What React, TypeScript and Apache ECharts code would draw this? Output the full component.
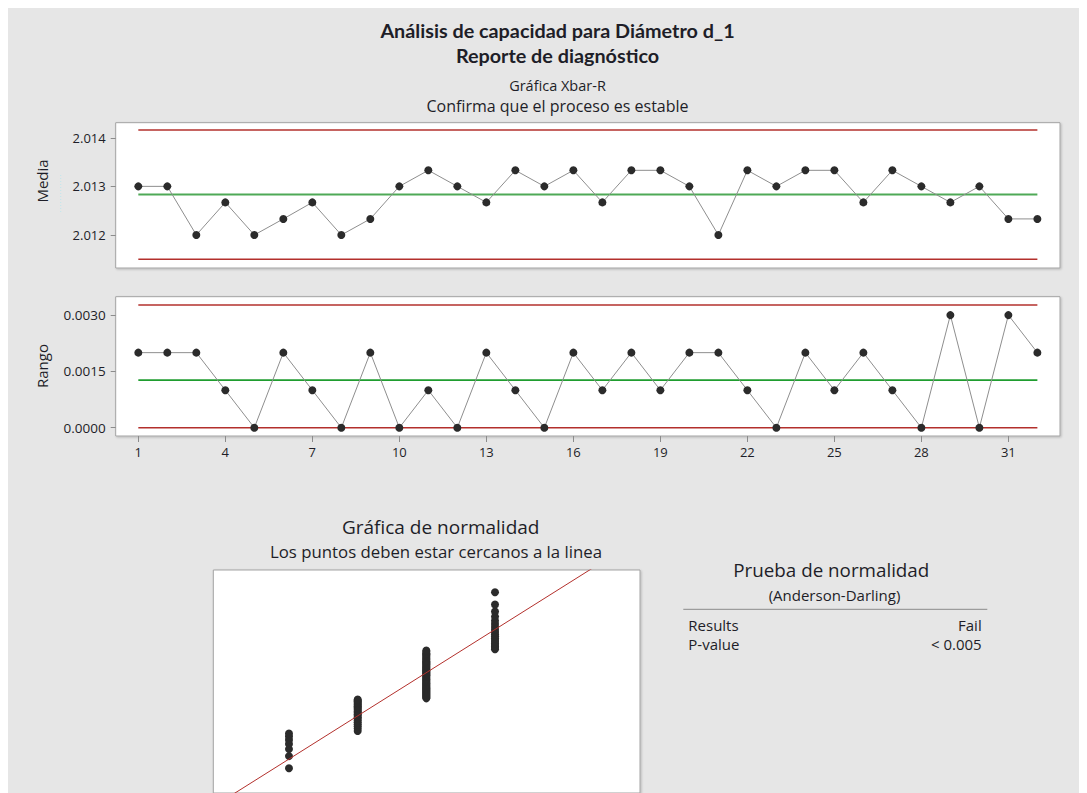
import { useEffect, useRef } from "react";
import * as echarts from "echarts";

// ---- Data ----
const subgroups = [1, 2, 3, 4, 5, 6, 7, 8, 9, 10, 11, 12, 13, 14, 15, 16, 17, 18, 19, 20, 21, 22, 23, 24, 25, 26, 27, 28, 29, 30, 31, 32];
const xbarValues = [
  2.013, 2.013, 2.012, 2.01267, 2.012, 2.01233, 2.01267, 2.012, 2.01233, 2.013,
  2.01333, 2.013, 2.01267, 2.01333, 2.013, 2.01333, 2.01267, 2.01333, 2.01333, 2.013,
  2.012, 2.01333, 2.013, 2.01333, 2.01333, 2.01267, 2.01333, 2.013, 2.01267, 2.013,
  2.01233, 2.01233,
];
const rangeValues = [
  0.002, 0.002, 0.002, 0.001, 0, 0.002, 0.001, 0, 0.002, 0,
  0.001, 0, 0.002, 0.001, 0, 0.002, 0.001, 0.002, 0.001, 0.002,
  0.002, 0.001, 0, 0.002, 0.001, 0.002, 0.001, 0, 0.003, 0,
  0.003, 0.002,
];
const xbarUCL = 2.01416;
const xbarCL = 2.01283;
const xbarLCL = 2.0115;
const rangeUCL = 0.00327;
const rangeCL = 0.00127;
const rangeLCL = 0;

const xTickValues = [1, 4, 7, 10, 13, 16, 19, 22, 25, 28, 31];
const xbarTickValues = [2.012, 2.013, 2.014];
const rangeTickValues = [0, 0.0015, 0.003];

// Normality plot: distinct measured values and how many observations each has
const normalValues = [2.011, 2.012, 2.013, 2.014];
const normalCounts = [7, 22, 48, 19];

// inverse standard normal CDF (probability-scale transform of the y axis)
function invNorm(p: number): number {
  const a = [-3.969683028665376e1, 2.209460984245205e2, -2.759285104469687e2, 1.38357751867269e2, -3.066479806614716e1, 2.506628277459239];
  const b = [-5.447609879822406e1, 1.615858368580409e2, -1.556989798598866e2, 6.680131188771972e1, -1.328068155288572e1];
  const c = [-7.784894002430293e-3, -3.223964580411365e-1, -2.400758277161838, -2.549671010029557, 4.374664141464968, 2.938163982698783];
  const d = [7.784695709041462e-3, 3.224671290700398e-1, 2.445134137142996, 3.754408661907416];
  const plow = 0.02425;
  const phigh = 1 - plow;
  let q: number, r: number;
  if (p < plow) {
    q = Math.sqrt(-2 * Math.log(p));
    return (((((c[0] * q + c[1]) * q + c[2]) * q + c[3]) * q + c[4]) * q + c[5]) / ((((d[0] * q + d[1]) * q + d[2]) * q + d[3]) * q + 1);
  }
  if (p <= phigh) {
    q = p - 0.5;
    r = q * q;
    return ((((((a[0] * r + a[1]) * r + a[2]) * r + a[3]) * r + a[4]) * r + a[5]) * q) / (((((b[0] * r + b[1]) * r + b[2]) * r + b[3]) * r + b[4]) * r + 1);
  }
  q = Math.sqrt(-2 * Math.log(1 - p));
  return -(((((c[0] * q + c[1]) * q + c[2]) * q + c[3]) * q + c[4]) * q + c[5]) / ((((d[0] * q + d[1]) * q + d[2]) * q + d[3]) * q + 1);
}

function buildNormal() {
  const n = normalCounts.reduce((s, v) => s + v, 0);
  const pts: number[][] = [];
  let rank = 0;
  let sum = 0;
  normalValues.forEach((v, k) => {
    for (let j = 0; j < normalCounts[k]; j++) {
      rank += 1;
      pts.push([v, invNorm((rank - 0.3) / (n + 0.4))]);
    }
    sum += v * normalCounts[k];
  });
  const mean = sum / n;
  let ss = 0;
  normalValues.forEach((v, k) => {
    ss += normalCounts[k] * (v - mean) * (v - mean);
  });
  const sd = Math.sqrt(ss / (n - 1));
  return { pts, mean, sd };
}

const TEXT = "#1e1e28";
const RED = "#b3302c";
const FONT = "'Open Sans', 'Noto Sans', sans-serif";
const TITLE_FONT = "Lato, 'Open Sans', sans-serif";

export default function App() {
  const ref = useRef<HTMLDivElement>(null);
  useEffect(() => {
    document.documentElement.style.overflow = "hidden";
    document.body.style.overflow = "hidden";
    if (!ref.current) return;
    const chart = echarts.init(ref.current, null, { renderer: "svg" });
    const { pts, mean, sd } = buildNormal();
    const nxMin = 2.009898;
    const nxMax = 2.016111;
    const xMin = 0.22;
    const xMax = 32.78;
    const first = subgroups[0];
    const last = subgroups[subgroups.length - 1];

    const limitLine = (xi: number, val: number, color: string, width: number) => ({
      type: "line",
      xAxisIndex: xi,
      yAxisIndex: xi,
      data: [
        [first, val],
        [last, val],
      ],
      showSymbol: false,
      symbol: "none",
      silent: true,
      lineStyle: { color, width },
    });

    const gridBase = {
      show: true,
      backgroundColor: "#ffffff",
      borderColor: "#a3a3a3",
      borderWidth: 1,
      shadowColor: "rgba(0,0,0,0.2)",
      shadowBlur: 2,
      shadowOffsetX: 1,
      shadowOffsetY: 1,
    };

    const txt = (x: number, y: number, text: string, font: string, align = "center", extra: any = {}) => ({
      type: "text",
      x,
      y,
      silent: true,
      ...extra,
      style: { text, font, fill: TEXT, textAlign: align, textVerticalAlign: "middle" },
    });

    chart.setOption({
      animation: false,
      backgroundColor: "#e6e6e6",
      grid: [
        { ...gridBase, left: 107.7, top: 114.7, width: 944.3, height: 145.3 },
        { ...gridBase, left: 107.7, top: 288.7, width: 944.3, height: 139.3 },
        { ...gridBase, left: 205.3, top: 562, width: 426.7, height: 223 },
      ],
      xAxis: [
        {
          type: "value", gridIndex: 0, min: xMin, max: xMax,
          axisLine: { show: false }, axisTick: { show: false }, axisLabel: { show: false }, splitLine: { show: false },
        },
        {
          type: "value", gridIndex: 1, min: xMin, max: xMax,
          axisLine: { show: false, onZero: false },
          axisTick: { show: true, customValues: xTickValues, length: 6, lineStyle: { color: "#8c8c8c" } },
          axisLabel: { show: true, customValues: xTickValues, color: TEXT, fontSize: 13, fontFamily: FONT, margin: 9 },
          splitLine: { show: false },
        },
        {
          type: "value", gridIndex: 2, min: nxMin, max: nxMax,
          axisLine: { show: false }, axisTick: { show: false }, axisLabel: { show: false }, splitLine: { show: false },
        },
      ],
      yAxis: [
        {
          type: "value", gridIndex: 0, min: 2.01132, max: 2.01431,
          axisLine: { show: false, onZero: false },
          axisTick: { show: true, customValues: xbarTickValues, length: 5, lineStyle: { color: "#8c8c8c" } },
          axisLabel: { show: true, customValues: xbarTickValues, formatter: (v: number) => v.toFixed(3), color: TEXT, fontSize: 13, fontFamily: FONT, margin: 10 },
          splitLine: { show: false },
        },
        {
          type: "value", gridIndex: 1, min: -0.00022, max: 0.00349,
          axisLine: { show: false, onZero: false },
          axisTick: { show: true, customValues: rangeTickValues, length: 5, lineStyle: { color: "#8c8c8c" } },
          axisLabel: { show: true, customValues: rangeTickValues, formatter: (v: number) => v.toFixed(4), color: TEXT, fontSize: 13.5, fontFamily: FONT, margin: 10 },
          splitLine: { show: false },
        },
        {
          type: "value", gridIndex: 2, min: -3.13, max: 3.064,
          axisLine: { show: false }, axisTick: { show: false }, axisLabel: { show: false }, splitLine: { show: false },
        },
      ],
      series: [
        limitLine(0, xbarUCL, RED, 1.5),
        limitLine(0, xbarLCL, RED, 1.5),
        limitLine(0, xbarCL, "#4fa957", 2),
        {
          type: "line", xAxisIndex: 0, yAxisIndex: 0,
          data: subgroups.map((s, i) => [s, xbarValues[i]]),
          symbol: "circle", symbolSize: 8, showSymbol: true,
          itemStyle: { color: "#2b2b2b", opacity: 1 },
          lineStyle: { color: "#8e8e8e", width: 1 },
        },
        limitLine(1, rangeUCL, RED, 1.5),
        limitLine(1, rangeLCL, RED, 1.5),
        limitLine(1, rangeCL, "#1f9d2f", 1.8),
        {
          type: "line", xAxisIndex: 1, yAxisIndex: 1,
          data: subgroups.map((s, i) => [s, rangeValues[i]]),
          symbol: "circle", symbolSize: 8, showSymbol: true,
          itemStyle: { color: "#2b2b2b", opacity: 1 },
          lineStyle: { color: "#8e8e8e", width: 1 },
        },
        {
          type: "line", xAxisIndex: 2, yAxisIndex: 2,
          data: [
            [nxMin, (nxMin - mean) / sd],
            [nxMax, (nxMax - mean) / sd],
          ],
          symbol: "none", clip: true, silent: true,
          lineStyle: { color: RED, width: 1 },
        },
        {
          type: "scatter", xAxisIndex: 2, yAxisIndex: 2,
          data: pts,
          symbol: "circle", symbolSize: 8,
          itemStyle: { color: "#2b2b2b", opacity: 1 },
        },
      ],
      graphic: [
        txt(549.5, 22, "Análisis de capacidad para Diámetro d_1", `bold 19.8px ${TITLE_FONT}`),
        txt(549.5, 47, "Reporte de diagnóstico", `bold 19.8px ${TITLE_FONT}`),
        txt(549.5, 77, "Gráfica Xbar-R", `14.5px ${FONT}`),
        txt(549.5, 97.5, "Confirma que el proceso es estable", `16px ${FONT}`),
        txt(33.7, 173, "Media", `15px ${FONT}`, "center", { rotation: Math.PI / 2 }),
        txt(33.7, 358, "Rango", `15px ${FONT}`, "center", { rotation: Math.PI / 2 }),
        {
          type: "line", silent: true,
          shape: { x1: 52.7, y1: 167, x2: 52.7, y2: 205 },
          style: { stroke: "#bfe6ec", lineWidth: 1, lineDash: [1, 2] },
        },
        txt(432.7, 518.7, "Gráfica de normalidad", `19px ${FONT}`),
        txt(428, 543.7, "Los puntos deben estar cercanos a la linea", `16.8px ${FONT}`),
        txt(823.3, 562, "Prueba de normalidad", `18.8px ${FONT}`),
        txt(826.5, 587, "(Anderson-Darling)", `15px ${FONT}`),
        {
          type: "line", silent: true,
          shape: { x1: 675.3, y1: 601.3, x2: 979.3, y2: 601.3 },
          style: { stroke: "#8a8a8a", lineWidth: 1 },
        },
        txt(680.3, 617, "Results", `15px ${FONT}`, "left"),
        txt(973.7, 617, "Fail", `15px ${FONT}`, "right"),
        txt(680.3, 636.3, "P-value", `15px ${FONT}`, "left"),
        txt(973.7, 636.3, "< 0.005", `15px ${FONT}`, "right"),
      ],
    });
    return () => chart.dispose();
  }, []);
  return <div ref={ref} style={{ width: 1079, height: 785 }} />;
}
